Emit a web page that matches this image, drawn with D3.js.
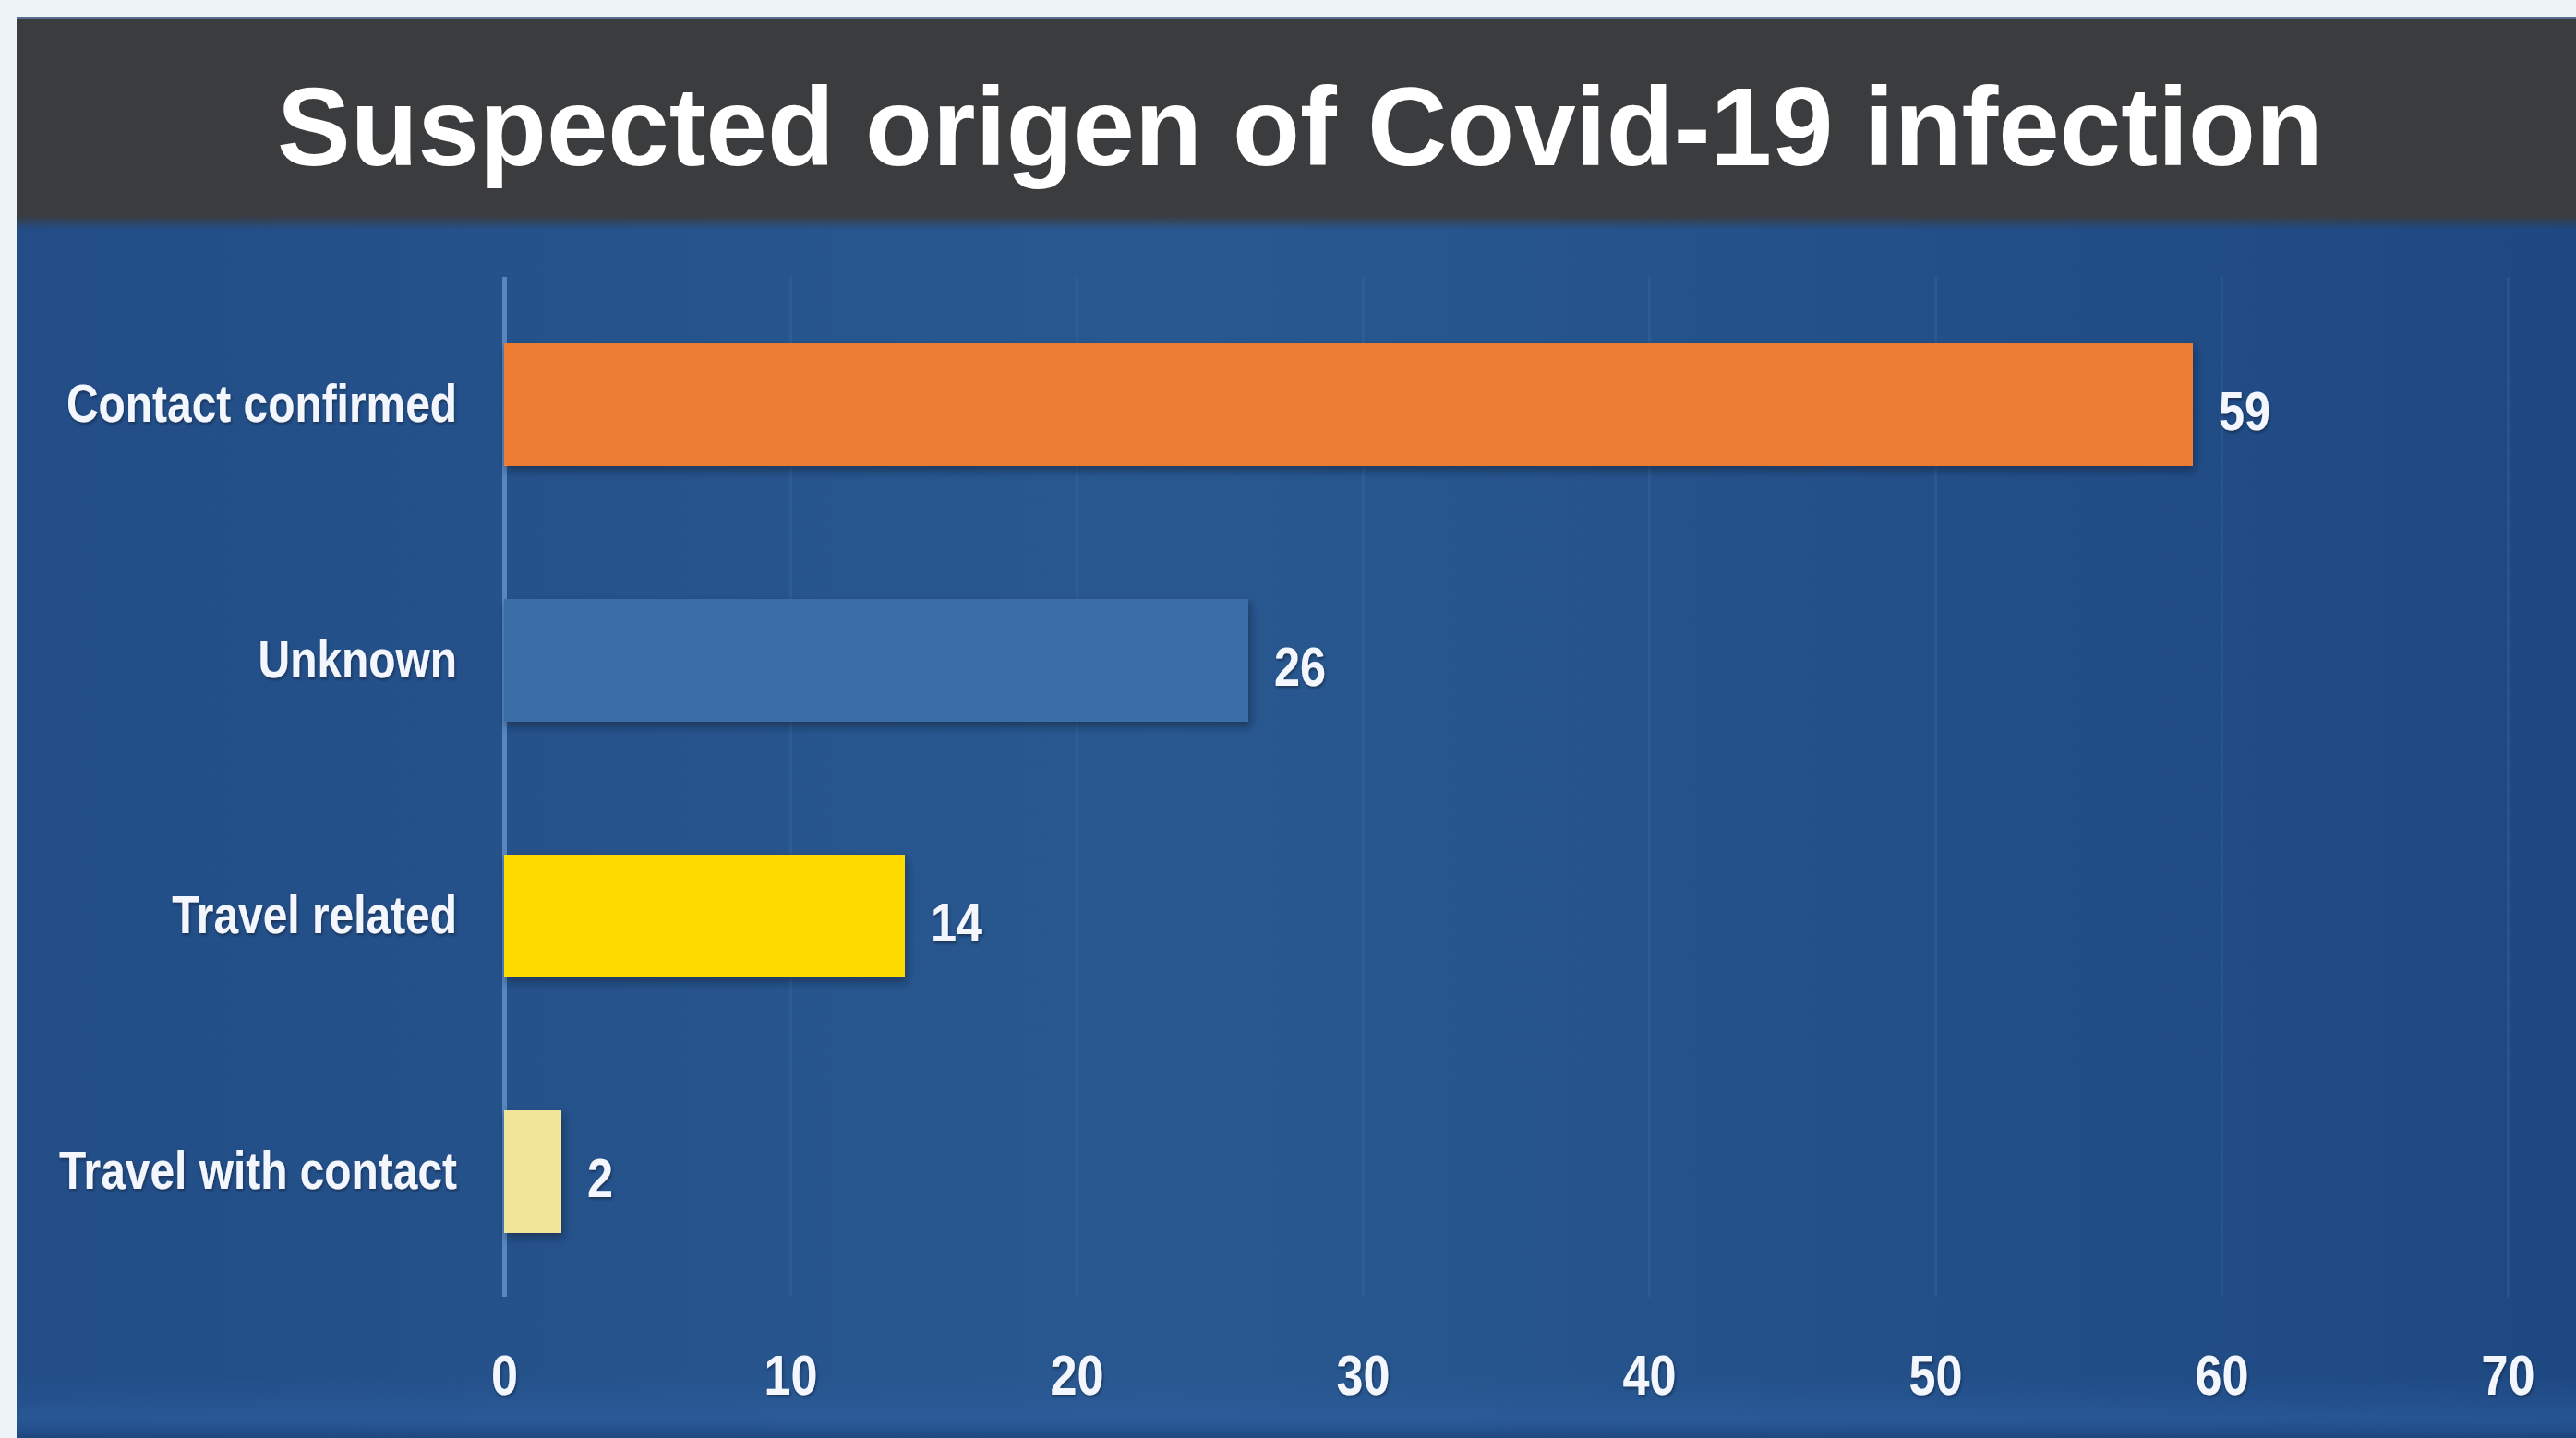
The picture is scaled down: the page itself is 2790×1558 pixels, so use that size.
<!DOCTYPE html>
<html>
<head>
<meta charset="utf-8">
<script src="https://cdn.jsdelivr.net/npm/d3@7"></script>
<style>
  body { margin: 0; background: #eef3f8; overflow: hidden; }
  .lbl { font-family: "Liberation Sans", Arial, sans-serif; font-weight: bold; fill: #f3f7fd; }
</style>
</head>
<body>
<div id="chart"></div>
<script>
var title = "Suspected origen of Covid-19 infection";
var categories = ["Contact confirmed", "Unknown", "Travel related", "Travel with contact"];
var counts = [59, 26, 14, 2];
var barColors = ["#ec7d33", "#3b6ea7", "#ffda00", "#f2e69b"];
var xTicks = [0, 10, 20, 30, 40, 50, 60, 70];

var W = 2790, H = 1558;
var plotLeft = 546, plotRight = 2716, plotTop = 300, plotBottom = 1405;

// the reference uses a condensed bold face; squeeze the plain bold to match
function narrow(sel) {
    sel.each(function() {
        var w = this.getComputedTextLength();
        d3.select(this).attr("textLength", w * 0.84).attr("lengthAdjust", "spacingAndGlyphs");
    });
}

var svg = d3.select("#chart").append("svg")
    .attr("width", W)
    .attr("height", H);

var defs = svg.append("defs");

var bg = defs.append("linearGradient").attr("id", "bg")
    .attr("x1", 0).attr("x2", 1).attr("y1", 0).attr("y2", 0);
bg.append("stop").attr("offset", "0").attr("stop-color", "#224d87");
bg.append("stop").attr("offset", "0.45").attr("stop-color", "#295890");
bg.append("stop").attr("offset", "1").attr("stop-color", "#1e4882");

var fade = defs.append("linearGradient").attr("id", "fade")
    .attr("x1", 0).attr("x2", 0).attr("y1", 0).attr("y2", 1);
fade.append("stop").attr("offset", "0").attr("stop-color", "#3b3c3e").attr("stop-opacity", 1);
fade.append("stop").attr("offset", "1").attr("stop-color", "#3b3c3e").attr("stop-opacity", 0);

var band = defs.append("linearGradient").attr("id", "band")
    .attr("x1", 0).attr("x2", 0).attr("y1", 0).attr("y2", 1);
band.append("stop").attr("offset", "0").attr("stop-color", "#2d60a3").attr("stop-opacity", 0);
band.append("stop").attr("offset", "0.7").attr("stop-color", "#2d60a3").attr("stop-opacity", 0.5);
band.append("stop").attr("offset", "1").attr("stop-color", "#1b447c").attr("stop-opacity", 0.8);

defs.append("filter").attr("id", "shadow")
    .attr("x", "-10%").attr("y", "-20%").attr("width", "130%").attr("height", "150%")
  .append("feDropShadow")
    .attr("dx", 2).attr("dy", 5).attr("stdDeviation", 4)
    .attr("flood-color", "#0a1a36").attr("flood-opacity", 0.55);

defs.append("filter").attr("id", "tshadow")
    .attr("x", "-10%").attr("y", "-20%").attr("width", "130%").attr("height", "150%")
  .append("feDropShadow")
    .attr("dx", 1).attr("dy", 2).attr("stdDeviation", 1.5)
    .attr("flood-color", "#0a1a36").attr("flood-opacity", 0.6);

// panel background
svg.append("rect").attr("x", 18).attr("y", 18).attr("width", W - 18).attr("height", H - 18)
    .attr("fill", "url(#bg)");
svg.append("rect").attr("x", 18).attr("y", 1490).attr("width", W - 18).attr("height", H - 1490)
    .attr("fill", "url(#band)");

// header
svg.append("rect").attr("x", 18).attr("y", 18).attr("width", W - 18).attr("height", 215)
    .attr("fill", "#3b3c3e");
svg.append("rect").attr("x", 18).attr("y", 233).attr("width", W - 18).attr("height", 16)
    .attr("fill", "url(#fade)");
svg.append("rect").attr("x", 18).attr("y", 18).attr("width", W - 18).attr("height", 3)
    .attr("fill", "#5a6c92");

svg.append("text")
    .attr("x", 300).attr("y", 179)
    .attr("textLength", 2216)
    .attr("lengthAdjust", "spacingAndGlyphs")
    .style("font-family", "'Liberation Sans', Arial, sans-serif")
    .style("font-weight", "bold")
    .style("font-size", "120px")
    .style("fill", "#ffffff")
    .text(title);

var x = d3.scaleLinear().domain([0, 70]).range([plotLeft, plotRight]);
var y = d3.scaleBand().domain(categories)
    .range([plotTop, 1408])
    .paddingInner(0.52)
    .paddingOuter(0.26);

// grid + x tick labels
var xAxis = svg.append("g")
    .attr("transform", "translate(0," + plotBottom + ")")
    .call(d3.axisBottom(x).tickValues(xTicks).tickSize(-(plotBottom - plotTop)).tickPadding(62));
xAxis.select(".domain").remove();
xAxis.selectAll(".tick line")
    .attr("stroke", function(d) { return d === 0 ? "#6290c6" : "#3d6aa5"; })
    .attr("stroke-opacity", function(d) { return d === 0 ? 0.85 : 0.35; })
    .attr("stroke-width", function(d) { return d === 0 ? 5 : 3; });
xAxis.selectAll(".tick text")
    .attr("class", "lbl")
    .attr("filter", "url(#tshadow)")
    .style("font-size", "62px")
    .call(narrow);

// bars
svg.append("g").selectAll("rect")
    .data(categories)
    .enter().append("rect")
    .attr("x", x(0))
    .attr("y", function(d) { return y(d); })
    .attr("width", function(d, i) { return x(counts[i]) - x(0); })
    .attr("height", y.bandwidth())
    .attr("fill", function(d, i) { return barColors[i]; })
    .attr("filter", "url(#shadow)");

// category labels
var yAxis = svg.append("g")
    .attr("transform", "translate(" + plotLeft + ",0)")
    .call(d3.axisLeft(y).tickSize(0).tickPadding(51));
yAxis.select(".domain").remove();
yAxis.selectAll(".tick text")
    .attr("class", "lbl")
    .attr("filter", "url(#tshadow)")
    .style("font-size", "57px")
    .call(narrow);

// value labels
svg.append("g").selectAll("text")
    .data(categories)
    .enter().append("text")
    .attr("class", "lbl")
    .attr("filter", "url(#tshadow)")
    .attr("x", function(d, i) { return x(counts[i]) + 28; })
    .attr("y", function(d) { return y(d) + y.bandwidth() / 2; })
    .attr("dy", "0.46em")
    .style("font-size", "60px")
    .text(function(d, i) { return counts[i]; })
    .call(narrow);
</script>
</body>
</html>
